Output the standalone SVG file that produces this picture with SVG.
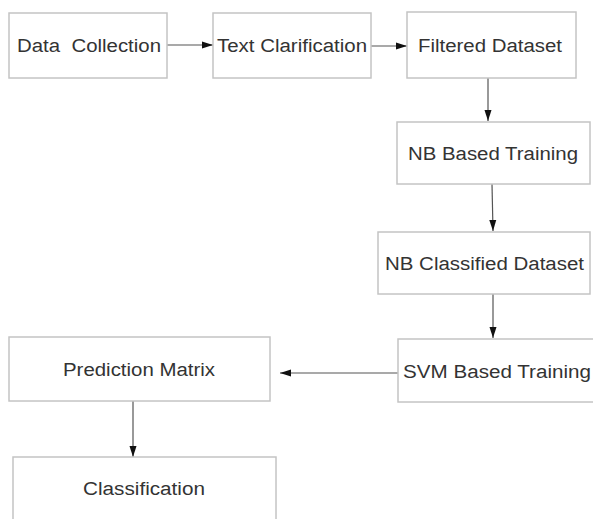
<svg xmlns="http://www.w3.org/2000/svg" width="593" height="519" viewBox="0 0 593 519">
<style>
.box{fill:#fff;stroke:#c4c4c4;stroke-width:1.5}
.lbl{font-family:"Liberation Sans",Arial,sans-serif;font-size:18px;fill:#333;white-space:pre}
.con{stroke:#555;stroke-width:1.2;fill:none}
</style>
<defs>
<marker id="ah" markerWidth="11" markerHeight="8" refX="11" refY="4" orient="auto" markerUnits="userSpaceOnUse">
<path d="M0,0.5 L11,4 L0,7.5 Z" fill="#111"/>
</marker>
</defs>
<rect width="593" height="519" fill="#fff"/>
<g id="connectors">
<line class="con" x1="167" y1="45" x2="213" y2="45" marker-end="url(#ah)"/>
<line class="con" x1="371" y1="46" x2="407" y2="46" marker-end="url(#ah)"/>
<line class="con" x1="488" y1="78" x2="488" y2="121" marker-end="url(#ah)"/>
<line class="con" x1="492" y1="184" x2="493" y2="231" marker-end="url(#ah)"/>
<line class="con" x1="493" y1="294" x2="493" y2="338" marker-end="url(#ah)"/>
<line class="con" x1="398" y1="373" x2="280" y2="373" marker-end="url(#ah)"/>
<line class="con" x1="133" y1="401" x2="133" y2="457" marker-end="url(#ah)"/>
</g>
<g id="n1"><rect class="box" x="9" y="13" width="158" height="65"/><text class="lbl" x="17" y="52" textLength="144" lengthAdjust="spacingAndGlyphs" xml:space="preserve">Data  Collection</text></g>
<g id="n2"><rect class="box" x="213" y="13" width="158" height="65"/><text class="lbl" x="217" y="52" textLength="150" lengthAdjust="spacingAndGlyphs">Text Clarification</text></g>
<g id="n3"><rect class="box" x="407" y="12" width="169" height="66"/><text class="lbl" x="418" y="52" textLength="144" lengthAdjust="spacingAndGlyphs">Filtered Dataset</text></g>
<g id="n4"><rect class="box" x="397" y="122" width="193" height="62"/><text class="lbl" x="408" y="160" textLength="170" lengthAdjust="spacingAndGlyphs">NB Based Training</text></g>
<g id="n5"><rect class="box" x="378" y="232" width="212" height="62"/><text class="lbl" x="385" y="270" textLength="199" lengthAdjust="spacingAndGlyphs">NB Classified Dataset</text></g>
<g id="n6"><rect class="box" x="398" y="339" width="197" height="63"/><text class="lbl" x="403" y="378" textLength="188" lengthAdjust="spacingAndGlyphs">SVM Based Training</text></g>
<g id="n7"><rect class="box" x="9" y="337" width="261" height="64"/><text class="lbl" x="63" y="376" textLength="152" lengthAdjust="spacingAndGlyphs">Prediction Matrix</text></g>
<g id="n8"><rect class="box" x="13" y="457" width="263" height="70"/><text class="lbl" x="83" y="495" textLength="122" lengthAdjust="spacingAndGlyphs">Classification</text></g>
</svg>
